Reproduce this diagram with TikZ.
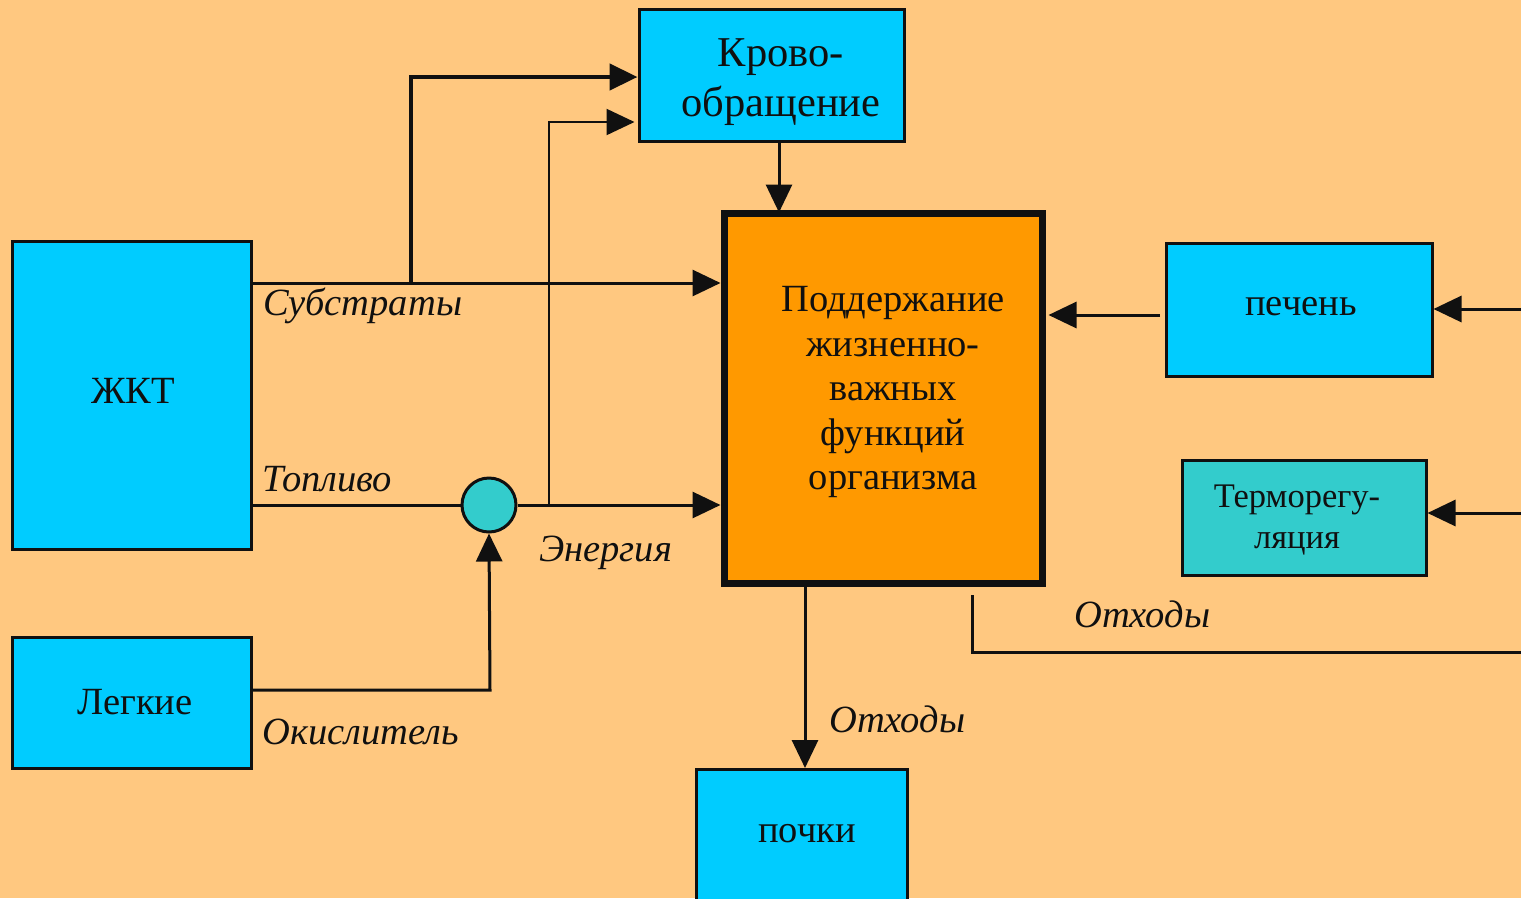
\documentclass[tikz,border=0pt]{standalone}
\usepackage{fontspec}
\setmainfont{Liberation Serif}
\usetikzlibrary{arrows.meta,calc}
\definecolor{bgorange}{RGB}{255,200,128}
\definecolor{boxcyan}{RGB}{0,204,255}
\definecolor{boxteal}{RGB}{51,204,204}
\definecolor{coreorange}{RGB}{255,153,0}
\definecolor{ink}{RGB}{16,16,16}
\tikzset{
  organ/.style={draw=ink, line width=3pt, fill=boxcyan, rectangle, align=center,
    inner sep=0pt, font=\fontsize{38.5}{46}\selectfont, text=ink},
  caption/.style={align=center, font=\fontsize{38.5}{46}\selectfont, text=ink, inner sep=0pt},
  flow/.style={draw=ink, line width=3pt, -{Triangle[length=28pt,width=26pt]}},
  thinflow/.style={draw=ink, line width=2.2pt, -{Triangle[length=28pt,width=26pt]}},
  plain/.style={draw=ink, line width=3pt},
  tag/.style={font=\fontsize{38.5}{44}\selectfont\itshape, text=ink, anchor=west, inner sep=0pt}
}
\begin{document}
\begin{tikzpicture}[x=1pt,y=-1pt]
  \fill[bgorange] (0,0) rectangle (1521,898);
  \useasboundingbox (0,0) rectangle (1521,898);

  % organ blocks
  \node[organ, minimum width=265pt, minimum height=132pt] (blood) at (771.5,75) {};
  \node[caption, font=\fontsize{42.5}{50}\selectfont] (bloodtext) at (781,82) {Крово-\\обращение};
  \node[organ, minimum width=239pt, minimum height=308pt] (gut) at (131.5,395) {};
  \node[caption] (guttext) at (133,391) {ЖКТ};
  \node[organ, minimum width=239pt, minimum height=131pt] (lung) at (131.5,702.5) {};
  \node[caption] (lungtext) at (135,702) {Легкие};
  \node[organ, minimum width=266pt, minimum height=133pt] (liver) at (1299,309.5) {};
  \node[caption] (livertext) at (1301,307) {печень};
  \node[organ, fill=boxteal, minimum width=244pt, minimum height=115pt] (thermo) at (1304,517.5) {};
  \node[caption, font=\fontsize{34.5}{41}\selectfont] (thermotext) at (1297,520) {Терморегу-\\ляция};
  \node[organ, minimum width=211pt, minimum height=150pt, anchor=north] (kidney) at (801.5,768) {};
  \node[caption] (kidneytext) at (807,834) {почки};

  % central block
  \node[draw=ink, line width=7pt, fill=coreorange, minimum width=318pt, minimum height=370pt,
    inner sep=0pt] (core) at (883,398) {};
  \node[caption, font=\fontsize{38.5}{44.5}\selectfont]
    (coretext) at (893,392) {Поддержание\\жизненно-\\важных\\функций\\организма};

  % mixing point
  \node[circle, draw=ink, line width=3pt, fill=boxteal, minimum size=54pt, inner sep=0pt]
    (mix) at (489,505) {};

  % free ends at the right margin and routing points
  \coordinate (subY) at (0,283);
  \coordinate (fuelY) at (0,505);
  \coordinate (bypass) at (411,77);
  \coordinate (enUp) at (549,122);
  \coordinate (inLiver) at (1521,309);
  \coordinate (inThermo) at (1521,513);
  \coordinate (wasteStart) at (972,595);
  \coordinate (wasteEnd) at (1521,652);
  \coordinate (liverOut) at (1160,315);

  % substrates
  \draw[flow] (gut.east |- subY) -- (core.west |- subY);
  \draw[plain, line width=4.5pt, -{Triangle[length=28pt,width=26pt]}]
    (411,283) -- (bypass) -- (blood.west |- bypass);
  % fuel and energy
  \draw[plain] (gut.east |- fuelY) -- (mix.west);
  \draw[flow] (mix.east) -- (core.west |- fuelY);
  \draw[thinflow] (549,505) -- (enUp) -- ([xshift=-3pt]blood.west |- enUp);
  % oxidiser
  \draw[flow] (lung.east |- 0,690) -- (490,690) -- (mix.south);
  % circulation to core
  \draw[flow] (blood.south -| 779,0) -- ([yshift=-3pt]core.north -| 779,0);
  % liver
  \draw[flow] (liverOut) -- ([xshift=3pt]core.east |- liverOut);
  \draw[flow] (inLiver) -- (liver.east |- inLiver);
  \draw[flow] (inThermo) -- (thermo.east |- inThermo);
  % wastes
  \draw[plain] (wasteStart) -- (972,652) -- (wasteEnd);
  \draw[flow] ([yshift=3pt]core.south -| 805,0) -- (kidney.north -| 805,0);

  % flow labels
  \node[tag] (lSub) at (263,306) {Субстраты};
  \node[tag] (lFuel) at (262,479) {Топливо};
  \node[tag] (lEn) at (539,553) {Энергия};
  \node[tag] (lOx) at (262,732) {Окислитель};
  \node[tag] (lW1) at (1074,614) {Отходы};
  \node[tag] (lW2) at (829,719) {Отходы};
\end{tikzpicture}
\end{document}
